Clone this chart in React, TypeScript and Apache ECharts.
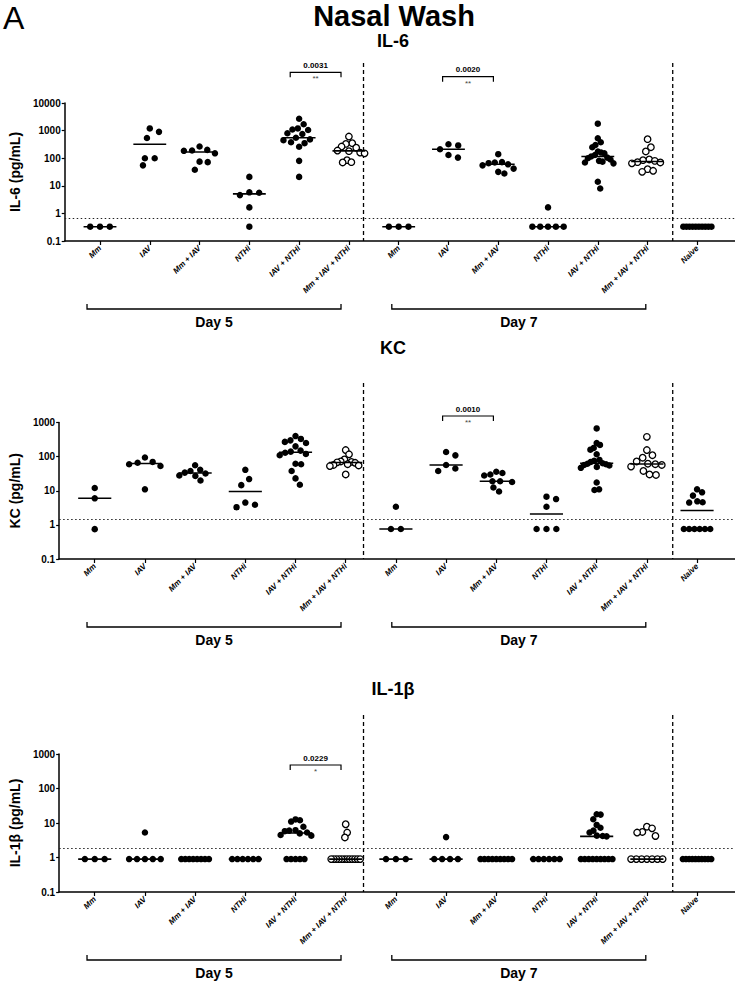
import React, { useEffect, useRef } from "react";
import * as echarts from "echarts";

// ---------------- data ----------------
const groupNames = [
  "Mm", "IAV", "Mm + IAV", "NTHi", "IAV + NTHi", "Mm + IAV + NTHi",
  "Mm", "IAV", "Mm + IAV", "NTHi", "IAV + NTHi", "Mm + IAV + NTHi",
  "Naive",
];
const openGroups = [5, 11];
const dayLabels = ["Day 5", "Day 7"];
const dayGroupRanges = [[0, 5], [6, 11]];

const il6Values = [
  [0.33, 0.33, 0.33],
  [1200, 900, 540, 100, 100, 55],
  [265, 200, 190, 185, 150, 75, 72, 38],
  [21, 5.8, 5.6, 4.6, 1.65, 0.33],
  [2700, 1700, 1200, 1100, 1050, 800, 750, 550, 480, 450, 380, 350, 260, 80, 21],
  [610, 350, 330, 265, 240, 190, 180, 160, 150, 85, 72, 70],
  [0.33, 0.33, 0.33],
  [320, 290, 210, 130, 105],
  [140, 72, 70, 66, 60, 55, 42, 32, 28],
  [1.65, 0.33, 0.33, 0.33, 0.33, 0.33],
  [1780, 530, 380, 300, 250, 175, 160, 150, 130, 115, 105, 100, 90, 80, 75, 70, 65, 14, 8],
  [490, 250, 175, 90, 85, 80, 72, 70, 65, 40, 35, 32],
  [0.33, 0.33, 0.33, 0.33, 0.33, 0.33, 0.33, 0.33, 0.33, 0.33],
];

const kcValues = [
  [12, 6, 0.75],
  [94, 70, 66, 60, 53, 11],
  [56, 41, 38, 34, 32, 28, 27, 20],
  [41, 22, 14.6, 4.5, 3.9, 3.3],
  [400, 330, 300, 270, 250, 200, 150, 140, 130, 120, 110, 62, 60, 38, 23, 15],
  [156, 117, 83, 72, 70, 68, 66, 60, 57, 55, 53, 30],
  [3.4, 0.76, 0.76],
  [137, 109, 57, 45, 38],
  [36, 33, 30, 28, 19, 19, 18, 12.5, 9.5],
  [6.7, 5.7, 3.4, 0.76, 0.76, 0.76],
  [670, 250, 220, 180, 160, 117, 80, 75, 70, 64, 62, 60, 57, 55, 50, 47, 17.5, 11, 10.5],
  [380, 156, 110, 93, 72, 62, 60, 57, 51, 38, 30, 29],
  [11, 9, 7.2, 4.9, 4.6, 4.5, 0.76, 0.76, 0.76, 0.76, 0.76, 0.76],
];

const il1bValues = [
  [0.9, 0.9, 0.9],
  [5.3, 0.9, 0.9, 0.9, 0.9, 0.9],
  [0.9, 0.9, 0.9, 0.9, 0.9, 0.9, 0.9, 0.9],
  [0.9, 0.9, 0.9, 0.9, 0.9, 0.9],
  [12.7, 12, 11, 7.8, 6.2, 6, 5.8, 5.3, 5, 4.5, 4.3, 0.9, 0.9, 0.9, 0.9, 0.9],
  [9.2, 5.3, 3.8, 0.9, 0.9, 0.9, 0.9, 0.9, 0.9, 0.9, 0.9, 0.9, 0.9, 0.9, 0.9],
  [0.9, 0.9, 0.9],
  [3.9, 0.9, 0.9, 0.9, 0.9],
  [0.9, 0.9, 0.9, 0.9, 0.9, 0.9, 0.9, 0.9, 0.9],
  [0.9, 0.9, 0.9, 0.9, 0.9, 0.9],
  [18, 17.5, 12.8, 8.8, 7.3, 6, 5.3, 4.3, 4.2, 4.1, 0.9, 0.9, 0.9, 0.9, 0.9, 0.9, 0.9, 0.9, 0.9],
  [7.8, 7, 5.5, 5.3, 4.2, 0.9, 0.9, 0.9, 0.9, 0.9, 0.9, 0.9],
  [0.9, 0.9, 0.9, 0.9, 0.9, 0.9, 0.9, 0.9, 0.9, 0.9],
];

const il6Lod = 0.68;
const kcLod = 1.5;
const il1bLod = 1.8;

const il6Sig = [
  { from: 4, to: 5, p: "0.0031", stars: "**" },
  { from: 7, to: 8, p: "0.0020", stars: "**" },
];
const kcSig = [{ from: 7, to: 8, p: "0.0010", stars: "**" }];
const il1bSig = [{ from: 4, to: 5, p: "0.0229", stars: "*" }];

// ---------------- layout ----------------
const W = 735;
const H = 983;
const FONT = "'Liberation Sans', Arial, Helvetica, sans-serif";
const GRID_LEFT = 51;
const X_MIN = -0.709;
const X_MAX = 12.756;
const UNIT_PX = (W - GRID_LEFT) / (X_MAX - X_MIN);
const SEPARATORS = [5.443, 11.53];
const xPx = (v: number) => GRID_LEFT + (v - X_MIN) * UNIT_PX;

const panels = [
  {
    title: "IL-6", yName: "IL-6 (pg/mL)", values: il6Values, lod: il6Lod, sig: il6Sig,
    yMax: 10000, top: 103, height: 138, sepTop: 63, titleY: 41, sigY: [72.3, 76.7],
  },
  {
    title: "KC", yName: "KC (pg/mL)", values: kcValues, lod: kcLod, sig: kcSig,
    yMax: 1000, top: 422.5, height: 136.5, sepTop: 383, titleY: 348, sigY: [416],
  },
  {
    title: "IL-1β", yName: "IL-1β (pg/mL)", values: il1bValues, lod: il1bLod, sig: il1bSig,
    yMax: 1000, top: 754, height: 138, sepTop: 715, titleY: 689, sigY: [765],
  },
];

function median(a: number[]) {
  const s = [...a].sort((x, y) => x - y);
  const n = s.length;
  return n % 2 ? s[(n - 1) / 2] : (s[n / 2 - 1] + s[n / 2]) / 2;
}

function swarmOffsets(vals: number[], pxPerDecade: number): number[] {
  const D = 10;
  const maxHalf = 16;
  const ys = vals.map((v) => Math.log10(v) * pxPerDecade);
  const xs: number[] = [];
  vals.forEach((_, i) => {
    const cands = [0];
    for (let j = 0; j < i; j++) {
      const dy = ys[i] - ys[j];
      if (Math.abs(dy) < D) {
        const dx = Math.sqrt(D * D - dy * dy);
        cands.push(xs[j] + dx, xs[j] - dx);
      }
    }
    cands.sort((a, b) => Math.abs(a) - Math.abs(b) || b - a);
    let chosen = cands[cands.length - 1];
    for (const c of cands) {
      let ok = true;
      for (let j = 0; j < i; j++) {
        const dx = c - xs[j];
        const dy = ys[i] - ys[j];
        if (dx * dx + dy * dy < D * D - 1e-6) { ok = false; break; }
      }
      if (ok) { chosen = c; break; }
    }
    xs.push(chosen);
  });
  const m = Math.max(0, ...xs.map(Math.abs));
  const f = m > maxHalf ? maxHalf / m : 1;
  const out = xs.map((x) => x * f);
  const rows = new Map<number, number[]>();
  vals.forEach((v, i) => {
    if (!rows.has(v)) rows.set(v, []);
    rows.get(v)!.push(i);
  });
  rows.forEach((idx) => {
    if (idx.length > 1) {
      const lo = Math.min(...idx.map((i) => out[i]));
      const hi = Math.max(...idx.map((i) => out[i]));
      const s = (lo + hi) / 2;
      idx.forEach((i) => { out[i] -= s; });
    }
  });
  return out.map((x) => x / UNIT_PX);
}

function buildOption() {
  const grid: any[] = [];
  const xAxis: any[] = [];
  const yAxis: any[] = [];
  const series: any[] = [];
  const graphic: any[] = [];
  const tickVals = groupNames.map((_, i) => i);

  const text = (x: number, y: number, t: string, size: number, weight: string, extra: any = {}) => ({
    type: "text", x, y, silent: true,
    style: {
      text: t, fill: "#000", fontSize: size, fontWeight: weight, fontFamily: FONT,
      textAlign: "center", textVerticalAlign: "middle", align: "center", verticalAlign: "middle",
      ...extra,
    },
  });

  graphic.push(text(3, 18, "A", 32, "normal", { textAlign: "left", align: "left" }));
  graphic.push(text(394, 16, "Nasal Wash", 29, "bold"));

  panels.forEach((p, pi) => {
    const bottom = p.top + p.height;
    grid.push({ left: GRID_LEFT, right: 0, top: p.top, height: p.height });
    xAxis.push({
      type: "value", gridIndex: pi, min: X_MIN, max: X_MAX,
      splitLine: { show: false },
      axisLine: { show: true, onZero: false, lineStyle: { color: "#000", width: 1.5 } },
      axisTick: { show: true, customValues: tickVals, length: 4, lineStyle: { color: "#000", width: 1.2 } },
      axisLabel: {
        show: true, customValues: tickVals, rotate: 45, margin: 6,
        formatter: (v: number) => groupNames[Math.round(v)] ?? "",
        fontSize: 8, fontWeight: "bold", fontStyle: "italic", color: "#000", fontFamily: FONT,
      },
    });
    yAxis.push({
      type: "log", logBase: 10, gridIndex: pi, min: 0.1, max: p.yMax,
      name: p.yName, nameLocation: "middle", nameGap: 33,
      nameTextStyle: { fontSize: 14, fontWeight: "bold", color: "#000", fontFamily: FONT },
      splitLine: { show: false },
      axisLine: { show: true, onZero: false, lineStyle: { color: "#000", width: 1.5 } },
      axisTick: { show: true, length: 3, lineStyle: { color: "#000", width: 1.2 } },
      axisLabel: {
        fontSize: 10, fontWeight: "bold", color: "#000", margin: 4, fontFamily: FONT,
        formatter: (v: number) => String(+v.toPrecision(6)),
      },
    });

    const pxPerDecade = p.height / Math.log10(p.yMax / 0.1);
    const filled: number[][] = [];
    const open: number[][] = [];
    const meds: number[][] = [];
    p.values.forEach((vals, gi) => {
      const offs = swarmOffsets(vals, pxPerDecade);
      const target = openGroups.includes(gi) ? open : filled;
      vals.forEach((v, k) => target.push([gi + offs[k], v]));
      meds.push([gi, median(vals)]);
    });

    series.push({
      type: "scatter", xAxisIndex: pi, yAxisIndex: pi, data: filled, symbolSize: 6.5,
      itemStyle: { color: "#000", opacity: 1 }, z: 3, silent: true,
      markLine: {
        silent: true, symbol: ["none", "none"], label: { show: false },
        lineStyle: { color: "#222", width: 1.2, type: [1.5, 2.5] },
        data: [{ yAxis: p.lod }],
      },
    });
    series.push({
      type: "scatter", xAxisIndex: pi, yAxisIndex: pi, data: open, symbolSize: 6.5,
      itemStyle: { color: "#fff", borderColor: "#000", borderWidth: 1.3, opacity: 1 }, z: 3, silent: true,
    });
    series.push({
      type: "custom", xAxisIndex: pi, yAxisIndex: pi, data: meds, z: 4, silent: true,
      renderItem: (_params: any, api: any) => {
        const x = api.value(0);
        const y = api.value(1);
        const a = api.coord([x - 0.33, y]);
        const b = api.coord([x + 0.33, y]);
        return {
          type: "line",
          shape: { x1: a[0], y1: a[1], x2: b[0], y2: b[1] },
          style: { stroke: "#000", lineWidth: 1.6 },
        };
      },
    });

    // panel title
    graphic.push(text(393, p.titleY, p.title, 18, "bold"));

    // separators
    SEPARATORS.forEach((s) => {
      graphic.push({
        type: "line", silent: true,
        shape: { x1: xPx(s), y1: p.sepTop, x2: xPx(s), y2: bottom },
        style: { stroke: "#000", lineWidth: 1.3, lineDash: [4, 3] },
      });
    });

    // significance brackets
    p.sig.forEach((s, si) => {
      const y = p.sigY[si];
      const x1 = xPx(s.from);
      const x2 = xPx(s.to);
      graphic.push({
        type: "polyline", silent: true,
        shape: { points: [[x1, y + 5], [x1, y], [x2, y], [x2, y + 5]] },
        style: { stroke: "#000", lineWidth: 1.2, fill: null },
      });
      graphic.push(text((x1 + x2) / 2, y - 7, s.p, 8, "bold"));
      graphic.push(text((x1 + x2) / 2, y + 6.5, s.stars, 8, "normal", { fill: "#444" }));
    });

    // day brackets
    dayGroupRanges.forEach((r, di) => {
      const x1 = xPx(r[0]);
      const x2 = xPx(r[1]);
      const y = bottom + 68;
      graphic.push({
        type: "polyline", silent: true,
        shape: { points: [[x1, y - 5], [x1, y], [x2, y], [x2, y - 5]] },
        style: { stroke: "#000", lineWidth: 1.3, fill: null },
      });
      graphic.push(text((x1 + x2) / 2, bottom + 81, dayLabels[di], 14, "bold"));
    });
  });

  return {
    animation: false,
    backgroundColor: "#fff",
    textStyle: { fontFamily: FONT },
    grid, xAxis, yAxis, series, graphic,
  };
}

export default function App() {
  const ref = useRef<HTMLDivElement>(null);
  useEffect(() => {
    if (!ref.current) return;
    const chart = echarts.init(ref.current, null, { renderer: "svg" });
    chart.setOption(buildOption() as any);
    return () => chart.dispose();
  }, []);
  return (
    <div
      ref={ref}
      style={{ position: "absolute", left: 0, top: 0, width: W, height: H, background: "#fff" }}
    />
  );
}
